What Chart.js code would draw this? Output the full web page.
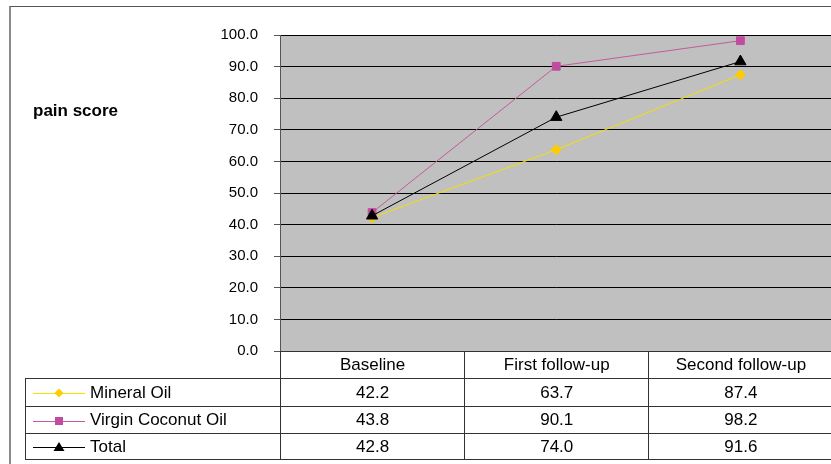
<!DOCTYPE html>
<html>
<head>
<meta charset="utf-8">
<script src="https://cdn.jsdelivr.net/npm/chart.js@4.4.0/dist/chart.umd.min.js"></script>
<style>
  html, body { margin: 0; padding: 0; width: 831px; height: 464px; overflow: hidden; background: #fff; }
  body { font-family: "Liberation Sans", Arial, sans-serif; color: #000; }
  #frame { position: absolute; left: 9px; top: 6px; width: 900px; height: 480px; border-left: 2px solid #8a8a8a; border-top: 1px solid #555; }
  #wrap { position: absolute; left: 0; top: 0; width: 840px; height: 464px; }
  #ytitle { position: absolute; left: 33px; top: 101px; font-size: 17px; font-weight: bold; }
  #tbl { position: absolute; border-collapse: collapse; table-layout: fixed; font-size: 17px; }
  #tbl td { border: 1px solid #333; padding: 0; text-align: center; white-space: nowrap; overflow: hidden; }
  #tbl td.blank { border-top: none; border-left: none; }
  #tbl td.key { text-align: left; padding-left: 7px; }
  #tbl td.key svg { vertical-align: middle; margin-right: 5px; }
</style>
</head>
<body>
<div id="frame"></div>
<div id="wrap"><canvas id="chart" width="840" height="464"></canvas></div>
<div id="ytitle">pain score</div>
<table id="tbl"></table>
<script>
  const categories = ["Baseline", "First follow-up", "Second follow-up"];
  const mineralOil = [42.2, 63.7, 87.4];
  const virginCoconutOil = [43.8, 90.1, 98.2];
  const total = [42.8, 74.0, 91.6];
  const yMin = 0, yMax = 100, yStep = 10;

  const FONT = "'Liberation Sans', Arial, sans-serif";

  const series = [
    { label: "Mineral Oil", data: mineralOil, line: "#f2e200", marker: "#ffcc00", shape: "rectRot", radius: 5, order: 3 },
    { label: "Virgin Coconut Oil", data: virginCoconutOil, line: "#c45a9e", marker: "#c04ca0", shape: "rect", radius: 5.5, order: 2 },
    { label: "Total", data: total, line: "#000000", marker: "#000000", shape: "triangle", radius: 6.5, order: 1 },
  ];

  const plotBg = {
    id: "plotBg",
    beforeDraw(chart) {
      const a = chart.chartArea;
      const ctx = chart.ctx;
      ctx.save();
      ctx.fillStyle = "#c0c0c0";
      ctx.fillRect(a.left, a.top, a.right - a.left, a.bottom - a.top);
      ctx.restore();
    },
  };

  const chart = new Chart(document.getElementById("chart"), {
    type: "line",
    data: {
      labels: categories,
      datasets: series.map((s) => ({
        label: s.label,
        data: s.data,
        borderColor: s.line,
        borderWidth: 1,
        backgroundColor: s.marker,
        pointBackgroundColor: s.marker,
        pointBorderColor: s.marker,
        pointBorderWidth: 1,
        pointStyle: s.shape,
        pointRadius: s.radius,
        tension: 0,
        order: s.order,
        clip: false,
      })),
    },
    options: {
      responsive: false,
      animation: false,
      events: [],
      layout: { padding: { left: 0, top: 35, right: 5, bottom: 113 } },
      plugins: { legend: { display: false }, tooltip: { enabled: false } },
      scales: {
        x: { display: false, offset: true },
        y: {
          min: yMin,
          max: yMax,
          afterFit: (scale) => { scale.width = 280; },
          border: { display: true, color: "#555", width: 1 },
          grid: { color: "#000", lineWidth: 1, drawTicks: true, tickLength: 6, tickColor: "#555" },
          ticks: {
            stepSize: yStep,
            padding: 16,
            color: "#000",
            font: { family: FONT, size: 15 },
            callback: (v) => Number(v).toFixed(1),
          },
        },
      },
    },
    plugins: [plotBg],
  });

  function keySvg(s) {
    const c = 26, y = 6;
    let mark = "";
    if (s.shape === "rectRot") mark = `<polygon points="${c},${y - 4.5} ${c + 4.5},${y} ${c},${y + 4.5} ${c - 4.5},${y}" fill="${s.marker}"/>`;
    else if (s.shape === "rect") mark = `<rect x="${c - 4}" y="${y - 4}" width="8" height="8" fill="${s.marker}"/>`;
    else mark = `<polygon points="${c},${y - 5} ${c + 5.5},${y + 4} ${c - 5.5},${y + 4}" fill="${s.marker}"/>`;
    return `<svg width="52" height="12"><line x1="0" y1="${y + 0.5}" x2="52" y2="${y + 0.5}" stroke="${s.line}" stroke-width="1"/>${mark}</svg>`;
  }

  function renderTable() {
    const a = chart.chartArea;
    const colW = (a.right - a.left) / categories.length;
    const left = 25;
    const tbl = document.getElementById("tbl");
    tbl.style.left = left + "px";
    tbl.style.top = Math.round(a.bottom) + "px";
    tbl.style.width = (a.right - left) + "px";
    const rowH = [27, 28, 27, 26];
    let html = `<colgroup><col style="width:${a.left - left}px">` +
      categories.map(() => `<col style="width:${colW}px">`).join("") + `</colgroup>`;
    html += `<tr style="height:${rowH[0]}px"><td class="blank"></td>` +
      categories.map((c) => `<td>${c}</td>`).join("") + `</tr>`;
    html += series.map((s, i) => (
      `<tr style="height:${rowH[i + 1]}px"><td class="key">${keySvg(s)}${s.label}</td>` +
      s.data.map((v) => `<td>${v.toFixed(1)}</td>`).join("") + `</tr>`
    )).join("");
    tbl.innerHTML = html;
  }

  renderTable();
</script>
</body>
</html>
